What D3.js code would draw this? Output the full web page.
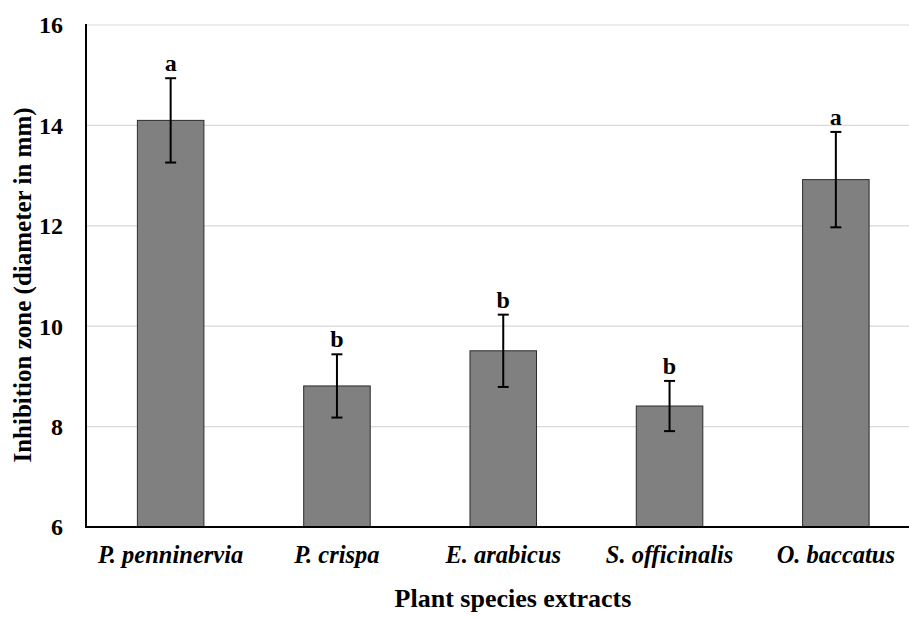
<!DOCTYPE html>
<html>
<head>
<meta charset="utf-8">
<script src="https://cdn.jsdelivr.net/npm/d3@7"></script>
<style>
  html, body { margin: 0; padding: 0; background: #fff; }
  svg { display: block; }
  text { font-family: "Liberation Serif", "Times New Roman", serif; }
</style>
</head>
<body>
<svg id="chart" width="909" height="618"></svg>
<script>
const categories = ["P. penninervia", "P. crispa", "E. arabicus", "S. officinalis", "O. baccatus"];
const means = [14.1, 8.81, 9.51, 8.41, 12.92];
const errors = [0.84, 0.63, 0.72, 0.5, 0.95];
const letters = ["a", "b", "b", "b", "a"];
const yTicks = [6, 8, 10, 12, 14, 16];

const svg = d3.select("#chart");
const pLeft = 86, pRight = 919, pTop = 25, pBottom = 527;

const x = d3.scaleBand().domain(categories).range([pLeft + 1.5, pRight]).padding(0);
const y = d3.scaleLinear().domain([6, 16]).range([pBottom, pTop]);
const barW = x.bandwidth() * 0.4;

// gridlines
svg.append("g").selectAll("line").data(yTicks.filter(t => t > 6)).join("line")
  .attr("x1", pLeft).attr("x2", pRight)
  .attr("y1", d => y(d)).attr("y2", d => y(d))
  .attr("stroke", "#d9d9d9").attr("stroke-width", 1.2);

// bars
svg.append("g").selectAll("rect").data(categories).join("rect")
  .attr("x", d => x(d) + (x.bandwidth() - barW) / 2)
  .attr("width", barW)
  .attr("y", (d, i) => y(means[i]))
  .attr("height", (d, i) => y(6) - y(means[i]))
  .attr("fill", "#808080")
  .attr("stroke", "#2b2b2b").attr("stroke-width", 1);

// error bars
const eb = svg.append("g").attr("stroke", "#000").attr("stroke-width", 2);
categories.forEach((c, i) => {
  const cx = x(c) + x.bandwidth() / 2;
  const hi = y(means[i] + errors[i]), lo = y(means[i] - errors[i]);
  eb.append("line").attr("x1", cx).attr("x2", cx).attr("y1", hi).attr("y2", lo);
  eb.append("line").attr("x1", cx - 5.5).attr("x2", cx + 5.5).attr("y1", hi).attr("y2", hi);
  eb.append("line").attr("x1", cx - 5.5).attr("x2", cx + 5.5).attr("y1", lo).attr("y2", lo);
});

// letters
svg.append("g").selectAll("text").data(categories).join("text")
  .attr("x", d => x(d) + x.bandwidth() / 2)
  .attr("y", (d, i) => y(means[i] + errors[i]) - 7)
  .attr("text-anchor", "middle")
  .attr("font-size", 24).attr("font-weight", "bold")
  .text((d, i) => letters[i]);

// axes lines
svg.append("line").attr("x1", pLeft).attr("x2", pLeft).attr("y1", pTop - 1).attr("y2", pBottom + 1)
  .attr("stroke", "#000").attr("stroke-width", 2);
svg.append("line").attr("x1", pLeft - 1).attr("x2", pRight).attr("y1", pBottom).attr("y2", pBottom)
  .attr("stroke", "#000").attr("stroke-width", 2.2);

// y tick labels
svg.append("g").selectAll("text").data(yTicks).join("text")
  .attr("x", 63).attr("y", d => y(d))
  .attr("dy", "0.35em")
  .attr("text-anchor", "end")
  .attr("font-size", 24).attr("font-weight", "bold")
  .text(d => d);

// x tick labels
svg.append("g").selectAll("text").data(categories).join("text")
  .attr("x", d => x(d) + x.bandwidth() / 2)
  .attr("y", 563)
  .attr("text-anchor", "middle")
  .attr("font-size", 24.5).attr("font-weight", "bold").attr("font-style", "italic")
  .text(d => d);

// axis titles
svg.append("text")
  .attr("x", 513).attr("y", 607)
  .attr("text-anchor", "middle")
  .attr("font-size", 26).attr("font-weight", "bold")
  .text("Plant species extracts");

svg.append("text")
  .attr("transform", "translate(31,285) rotate(-90)")
  .attr("text-anchor", "middle")
  .attr("font-size", 25).attr("font-weight", "bold")
  .text("Inhibition zone (diameter in mm)");
</script>
</body>
</html>
